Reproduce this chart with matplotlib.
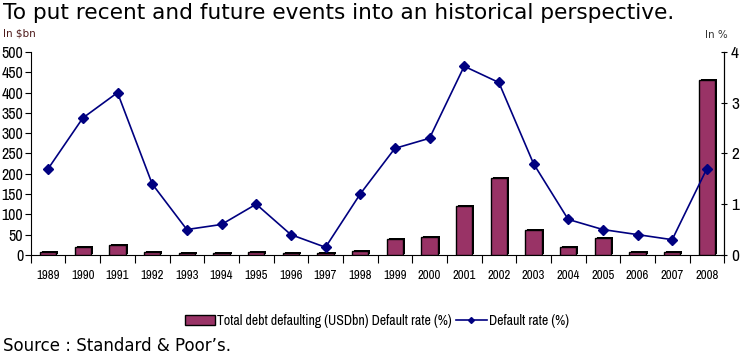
import numpy as np
import matplotlib.pyplot as plt
from matplotlib import font_manager
from matplotlib.ticker import FixedLocator

years = ["1989", "1990", "1991", "1992", "1993", "1994", "1995", "1996", "1997", "1998",
         "1999", "2000", "2001", "2002", "2003", "2004", "2005", "2006", "2007", "2008"]
debt_usdbn = [7, 20, 25, 7, 4, 4, 7, 4, 4, 10, 40, 43, 121, 190, 62, 20, 42, 7, 7, 432]
default_rate = [1.7, 2.7, 3.2, 1.4, 0.5, 0.6, 1.0, 0.4, 0.15, 1.2,
                2.1, 2.3, 3.72, 3.4, 1.8, 0.7, 0.5, 0.4, 0.3, 1.7]

bar_color = "#993366"
line_color = "#000080"

# condensed Arial-like font if there is one, else Liberation Sans a bit smaller
narrow_files = [f.fname for f in font_manager.fontManager.ttflist
                if "narrow" in f.fname.lower() and "bold" not in f.fname.lower()
                and "italic" not in f.fname.lower()]
if narrow_files:
    base = font_manager.FontProperties(fname=narrow_files[0])
    scale = 1.0
else:
    base = font_manager.FontProperties(family="Liberation Sans")
    scale = 0.8


def nfont(size):
    p = base.copy()
    p.set_size(size * scale)
    return p


fig = plt.figure(figsize=(7.52, 3.59), dpi=100)
ax = fig.add_axes([0.041, 0.290, 0.922, 0.565])
ax2 = ax.twinx()

x = np.arange(len(years))
# shadow behind bars (offset right/up)
ax.bar(x + 0.06, debt_usdbn, width=0.47, color="black", zorder=2, bottom=2.5)
bars = ax.bar(x, debt_usdbn, width=0.47, color=bar_color, edgecolor="black",
              linewidth=1.0, zorder=3)

line, = ax2.plot(x, default_rate, color=line_color, lw=1.2, marker="D", ms=5,
                 markerfacecolor=line_color, markeredgecolor=line_color)

ax.set_xlim(-0.5, len(years) - 0.5)
ax.set_ylim(0, 500)
ax.set_yticks(range(0, 501, 50))
ax2.set_ylim(0, 4)
ax2.set_yticks(range(0, 5))

ax.set_xticks(x)
ax.set_xticklabels(years)
ax.xaxis.set_minor_locator(FixedLocator(np.arange(-0.5, len(years), 1)))
ax.tick_params(axis="x", which="major", length=0, pad=11)
ax.tick_params(axis="x", which="minor", length=6, direction="out", width=0.8)
ax.tick_params(axis="y", length=4, direction="out", width=0.8, pad=1.5)
ax2.tick_params(axis="y", length=4, direction="inout", width=0.8, pad=3)
for lab in ax.get_xticklabels():
    lab.set_fontproperties(nfont(9.2))
for lab in ax.get_yticklabels():
    lab.set_fontproperties(nfont(11.5))
for lab in ax2.get_yticklabels():
    lab.set_fontproperties(nfont(12.5))

ax.spines["top"].set_visible(False)
ax2.spines["top"].set_visible(False)
for s in ["left", "bottom"]:
    ax.spines[s].set_linewidth(0.8)
ax2.spines["right"].set_linewidth(0.8)
ax2.spines["left"].set_visible(False)
ax2.spines["bottom"].set_visible(False)

fig.text(0.004, 0.948, "To put recent and future events into an historical perspective.",
         fontsize=15.6, va="baseline", ha="left", family="DejaVu Sans")
fig.text(0.004, 0.908, "In $bn", fontsize=7.5, color="#4d1a1a", va="center", family="DejaVu Sans")
fig.text(0.938, 0.902, "In %", fontsize=7.5, color="#333333", va="center", family="DejaVu Sans")
fig.text(0.004, 0.012, "Source : Standard & Poor\u2019s.", fontsize=12, va="bottom",
         family="DejaVu Sans")

fig.legend([bars, line], ["Total debt defaulting (USDbn) Default rate (%)", "Default rate (%)"],
           loc="center", bbox_to_anchor=(0.501, 0.107), ncol=2, frameon=False,
           prop=nfont(10), handlelength=2.2,
           handletextpad=0.15, columnspacing=0.3, markerscale=0.6)

fig.savefig("out.png", dpi=100)
